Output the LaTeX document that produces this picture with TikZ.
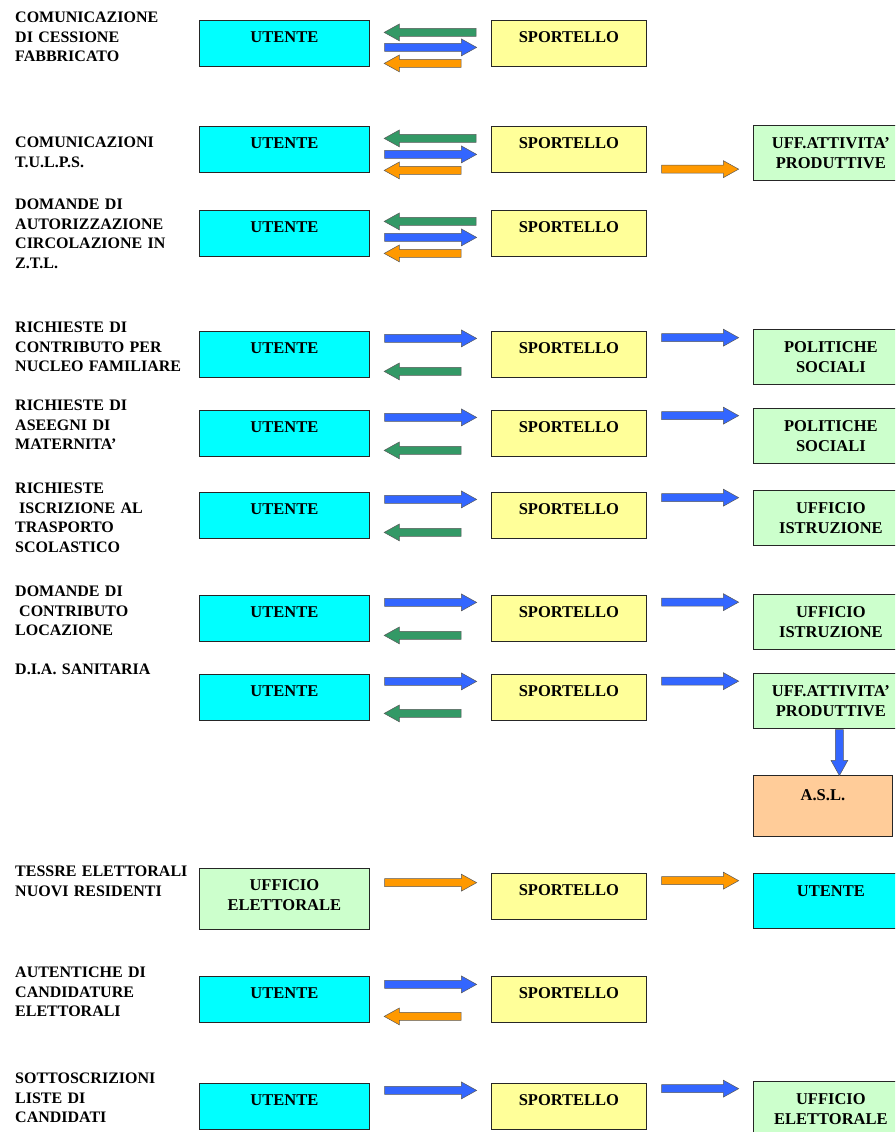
\documentclass[tikz,border=0pt]{standalone}
\usepackage{fontspec}
\setmainfont{Liberation Serif}
\usetikzlibrary{shapes.arrows,calc}
\definecolor{cy}{HTML}{00FFFF}
\definecolor{yl}{HTML}{FFFF99}
\definecolor{gr}{HTML}{CCFFCC}
\definecolor{pc}{HTML}{FFCC99}
\definecolor{ag}{HTML}{339966}
\definecolor{ab}{HTML}{3366FF}
\definecolor{ao}{HTML}{FF9900}
\begin{document}
\begin{tikzpicture}[x=1pt,y=-1pt,
  box/.style={draw=black!85, line width=0.8pt, inner sep=0pt, anchor=north west, align=center,
    font=\fontsize{16.5}{20}\selectfont\bfseries},
  ubox/.style={box, fill=cy, text width=170pt, text height=22.5pt, text depth=23.5pt},
  sbox/.style={box, fill=yl, text width=155pt, text height=22.5pt, text depth=23.5pt},
  rbox/.style={box, text width=155pt, text height=23.5pt, text depth=31.5pt},
  lab/.style={anchor=north west, inner sep=0pt, align=left, text width=190pt,
    font=\fontsize{16}{19.6}\selectfont\bfseries, text height=11pt},
  arr/.style={single arrow, draw=black!65, line width=0.5pt, inner sep=3.7pt,
    single arrow head extend=4.5pt, single arrow tip angle=58, minimum height=#1, anchor=tail},
  longr/.style={arr=92pt},
  longl/.style={arr=92pt, rotate=180},
  shortl/.style={arr=77pt, rotate=180},
  rightr/.style={arr=77pt}
]
\useasboundingbox (0,0) rectangle (895,1132);
\clip (0,0) rectangle (895,1132);
\fill[white] (0,0) rectangle (895,1132);

% ---------- Row 1
\node[lab] (l1) at (15,11.5) {COMUNICAZIONE\\DI CESSIONE\\FABBRICATO};
\node[ubox] (u1) at (199,20) {UTENTE};
\node[sbox] (s1) at (491,20) {SPORTELLO};
\node[longl, fill=ag] (a1a) at ($(u1.east)!.5!(s1.west)+(46,-11)$) {};
\node[longr, fill=ab] (a1b) at ($(u1.east)!.5!(s1.west)+(-46,4)$) {};
\node[shortl, fill=ao] (a1c) at ($(u1.east)!.5!(s1.west)+(31,20)$) {};

% ---------- Row 2
\node[lab] (l2) at (15,136.5) {COMUNICAZIONI\\T.U.L.P.S.};
\node[ubox] (u2) at (199,126) {UTENTE};
\node[sbox] (s2) at (491,126) {SPORTELLO};
\node[rbox, fill=gr] (f2) at (753,125) {UFF.ATTIVITA'\\PRODUTTIVE};
\node[longl, fill=ag] (a2a) at ($(u2.east)!.5!(s2.west)+(46,-11)$) {};
\node[longr, fill=ab] (a2b) at ($(u2.east)!.5!(s2.west)+(-46,5)$) {};
\node[shortl, fill=ao] (a2c) at ($(u2.east)!.5!(s2.west)+(31,21)$) {};
\node[rightr, fill=ao] (a2d) at ($(s2.east)!.5!(f2.west)+(-38.5,18)$) {};

% ---------- Row 3
\node[lab] (l3) at (15,198.5) {DOMANDE DI\\AUTORIZZAZIONE\\CIRCOLAZIONE IN\\Z.T.L.};
\node[ubox] (u3) at (199,210) {UTENTE};
\node[sbox] (s3) at (491,210) {SPORTELLO};
\node[longl, fill=ag] (a3a) at ($(u3.east)!.5!(s3.west)+(46,-12)$) {};
\node[longr, fill=ab] (a3b) at ($(u3.east)!.5!(s3.west)+(-46,4)$) {};
\node[shortl, fill=ao] (a3c) at ($(u3.east)!.5!(s3.west)+(31,20)$) {};

% ---------- Row 4
\node[lab] (l4) at (15,321.5) {RICHIESTE DI\\CONTRIBUTO PER\\NUCLEO FAMILIARE};
\node[ubox] (u4) at (199,331) {UTENTE};
\node[sbox] (s4) at (491,331) {SPORTELLO};
\node[rbox, fill=gr] (f4) at (753,329) {POLITICHE\\SOCIALI};
\node[longr, fill=ab] (a4a) at ($(u4.east)!.5!(s4.west)+(-46,-16)$) {};
\node[shortl, fill=ag] (a4b) at ($(u4.east)!.5!(s4.west)+(31,17)$) {};
\node[rightr, fill=ab] (a4c) at ($(s4.east)!.5!(f4.west)+(-38.5,-18)$) {};

% ---------- Row 5
\node[lab] (l5) at (15,399.5) {RICHIESTE DI\\ASEEGNI DI\\MATERNITA'};
\node[ubox] (u5) at (199,410) {UTENTE};
\node[sbox] (s5) at (491,410) {SPORTELLO};
\node[rbox, fill=gr] (f5) at (753,408) {POLITICHE\\SOCIALI};
\node[longr, fill=ab] (a5a) at ($(u5.east)!.5!(s5.west)+(-46,-16)$) {};
\node[shortl, fill=ag] (a5b) at ($(u5.east)!.5!(s5.west)+(31,17)$) {};
\node[rightr, fill=ab] (a5c) at ($(s5.east)!.5!(f5.west)+(-38.5,-19)$) {};

% ---------- Row 6
\node[lab] (l6) at (15,482.5) {RICHIESTE\\\hspace*{0.25em}ISCRIZIONE AL\\TRASPORTO\\SCOLASTICO};
\node[ubox] (u6) at (199,492) {UTENTE};
\node[sbox] (s6) at (491,492) {SPORTELLO};
\node[rbox, fill=gr] (f6) at (753,490) {UFFICIO\\ISTRUZIONE};
\node[longr, fill=ab] (a6a) at ($(u6.east)!.5!(s6.west)+(-46,-16)$) {};
\node[shortl, fill=ag] (a6b) at ($(u6.east)!.5!(s6.west)+(31,17)$) {};
\node[rightr, fill=ab] (a6c) at ($(s6.east)!.5!(f6.west)+(-38.5,-19)$) {};

% ---------- Row 7
\node[lab] (l7) at (15,585.5) {DOMANDE DI\\\hspace*{0.25em}CONTRIBUTO\\LOCAZIONE};
\node[ubox] (u7) at (199,595) {UTENTE};
\node[sbox] (s7) at (491,595) {SPORTELLO};
\node[rbox, fill=gr] (f7) at (753,594) {UFFICIO\\ISTRUZIONE};
\node[longr, fill=ab] (a7a) at ($(u7.east)!.5!(s7.west)+(-46,-16)$) {};
\node[shortl, fill=ag] (a7b) at ($(u7.east)!.5!(s7.west)+(31,17)$) {};
\node[rightr, fill=ab] (a7c) at ($(s7.east)!.5!(f7.west)+(-38.5,-18)$) {};

% ---------- Row 8
\node[lab] (l8) at (15,663.5) {D.I.A. SANITARIA};
\node[ubox] (u8) at (199,674) {UTENTE};
\node[sbox] (s8) at (491,674) {SPORTELLO};
\node[rbox, fill=gr] (f8) at (753,673) {UFF.ATTIVITA'\\PRODUTTIVE};
\node[box, fill=pc, text width=139pt, text height=25.5pt, text depth=35.5pt] (h8) at (753,775) {A.S.L.};
\node[longr, fill=ab] (a8a) at ($(u8.east)!.5!(s8.west)+(-46,-16)$) {};
\node[shortl, fill=ag] (a8b) at ($(u8.east)!.5!(s8.west)+(31,16)$) {};
\node[rightr, fill=ab] (a8c) at ($(s8.east)!.5!(f8.west)+(-38.5,-18)$) {};
\node[arr=46pt, rotate=-90, fill=ab] (a8d) at ($(f8.south)+(8.5,0.5)$) {};

% ---------- Row 9
\node[lab] (l9) at (15,865.5) {TESSRE ELETTORALI\\NUOVI RESIDENTI};
\node[box, fill=gr, text width=170pt, text height=22.5pt, text depth=38.5pt] (e9) at (199,868) {UFFICIO\\ELETTORALE};
\node[sbox] (s9) at (491,873) {SPORTELLO};
\node[rbox, fill=cy] (f9) at (753,873) {UTENTE};
\node[longr, fill=ao] (a9a) at ($(e9.east)!.5!(s9.west)+(-46,-15)$) {};
\node[rightr, fill=ao] (a9b) at ($(s9.east)!.5!(f9.west)+(-38.5,-18)$) {};

% ---------- Row 10
\node[lab] (l10) at (15,966.5) {AUTENTICHE DI\\CANDIDATURE\\ELETTORALI};
\node[ubox] (u10) at (199,976) {UTENTE};
\node[sbox] (s10) at (491,976) {SPORTELLO};
\node[longr, fill=ab] (a10a) at ($(u10.east)!.5!(s10.west)+(-46,-15)$) {};
\node[shortl, fill=ao] (a10b) at ($(u10.east)!.5!(s10.west)+(31,17)$) {};

% ---------- Row 11
\node[lab] (l11) at (15,1072.5) {SOTTOSCRIZIONI\\LISTE DI\\CANDIDATI};
\node[ubox] (u11) at (199,1083) {UTENTE};
\node[sbox] (s11) at (491,1083) {SPORTELLO};
\node[rbox, fill=gr] (f11) at (753,1081) {UFFICIO\\ELETTORALE};
\node[longr, fill=ab] (a11a) at ($(u11.east)!.5!(s11.west)+(-46,-16)$) {};
\node[rightr, fill=ab] (a11b) at ($(s11.east)!.5!(f11.west)+(-38.5,-19)$) {};
\end{tikzpicture}
\end{document}
